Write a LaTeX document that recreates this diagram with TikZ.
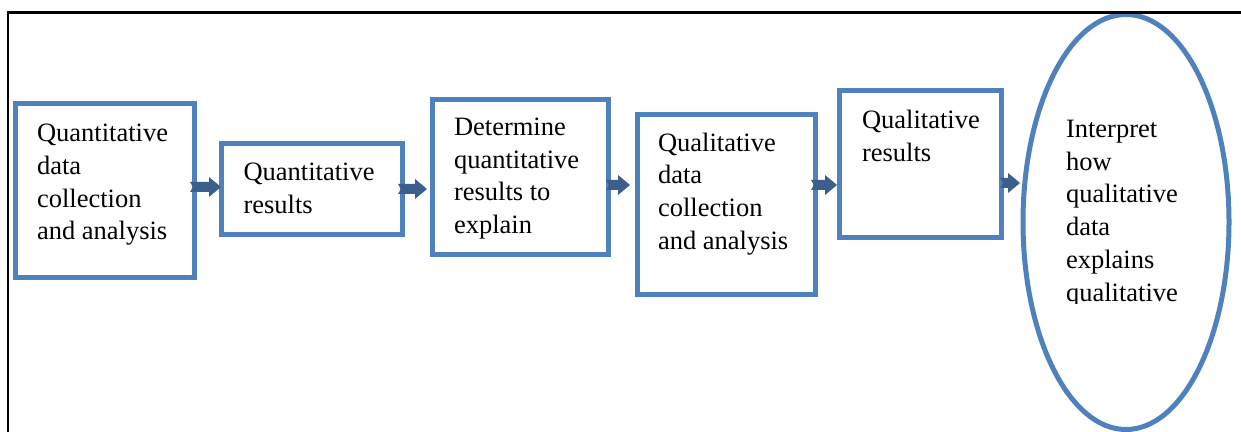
\documentclass[tikz,border=0pt]{standalone}
\usepackage{fontspec}
\setmainfont{Liberation Serif}
\usetikzlibrary{shapes.geometric,calc}
\definecolor{boxblue}{HTML}{4F81BD}
\definecolor{arrblue}{HTML}{3B5E8C}
\tikzset{
  boxnode/.style={rectangle, draw=boxblue, fill=white, line width=2.5pt, inner sep=0pt, outer sep=0pt},
  ellnode/.style={ellipse, draw=boxblue, fill=white, line width=2.5pt, inner sep=0pt, outer sep=0pt},
  txt/.style={anchor=north west, inner sep=0pt, outer sep=0pt, align=left,
    font=\fontsize{13.25pt}{16.4pt}\selectfont},
  barrow/.style={fill=arrblue},
  frameline/.style={draw=black, line width=1.4pt}
}
\newcommand\myblockarrow[2]{%
  \fill[barrow] ($(#1)+(0,-5)$) -- ($(#2)+(-12,-5)$) -- ($(#2)+(-12,-10)$) -- (#2)
    -- ($(#2)+(-12,10)$) -- ($(#2)+(-12,5)$) -- ($(#1)+(0,5)$) -- ($(#1)+(3,0)$) -- cycle;}
\begin{document}
\begin{tikzpicture}[x=0.5pt,y=-0.5pt]
\useasboundingbox (0,0) rectangle (1241,432);
% boxes
\node[boxnode, minimum width=179.5*0.5pt, minimum height=174*0.5pt] (b1) at (104.75,190.5) {};
\node[boxnode, minimum width=181*0.5pt, minimum height=91*0.5pt] (b2) at (311.5,189) {};
\node[boxnode, minimum width=176*0.5pt, minimum height=155*0.5pt] (b3) at (520.5,177) {};
\node[boxnode, minimum width=178*0.5pt, minimum height=180*0.5pt] (b4) at (726.5,204.5) {};
\node[boxnode, minimum width=162*0.5pt, minimum height=147*0.5pt] (b5) at (920.5,164) {};
\node[ellnode, minimum width=206*0.5pt, minimum height=415*0.5pt] (e6) at (1126,222) {};
% texts
\node[txt] (t1) at (37,124) {Quantitative\\data\\collection\\and analysis};
\node[txt] (t2) at (243.5,163) {Quantitative\\results};
\node[txt] (t3) at (454,117.7) {Determine\\quantitative\\results to\\explain};
\node[txt] (t4) at (658,132.7) {Qualitative\\data\\collection\\and analysis};
\node[txt] (t5) at (862,110) {Qualitative\\results};
\begin{scope}
  \clip (1040,100) rectangle (1215,304);
  \node[txt] (t6) at (1066,120) {Interpret\\how\\qualitative\\data\\explains\\qualitative};
\end{scope}
% arrow end points
\coordinate (a1s) at ($(b1.east |- 0,187)+(-4.5,0)$);
\coordinate (a1e) at ($(b2.west |- 0,187)+(0,0)$);
\coordinate (a2s) at ($(b2.east |- 0,189)+(-4,0)$);
\coordinate (a2e) at ($(b3.west |- 0,189)+(-5.5,0)$);
\coordinate (a3s) at ($(b3.east |- 0,185)+(-2.5,0)$);
\coordinate (a3e) at ($(b4.west |- 0,185)+(-7.5,0)$);
\coordinate (a4s) at ($(b4.east |- 0,185)+(-4.5,0)$);
\coordinate (a4e) at ($(b5.west |- 0,185)+(-2.5,0)$);
\coordinate (a5s) at ($(b5.east |- 0,183)+(-1.5,0)$);
\coordinate (a5e) at ($(e6.west |- 0,183)+(-3,0)$);
\myblockarrow{a1s}{a1e}
\myblockarrow{a2s}{a2e}
\myblockarrow{a3s}{a3e}
\myblockarrow{a4s}{a4e}
\myblockarrow{a5s}{a5e}
% frame
\coordinate (fr1) at (1241,12.5);
\coordinate (fr2) at (8,12.5);
\coordinate (fr3) at (8,432);
\draw[frameline] (fr1) -- (fr2) -- (fr3);
\end{tikzpicture}
\end{document}
